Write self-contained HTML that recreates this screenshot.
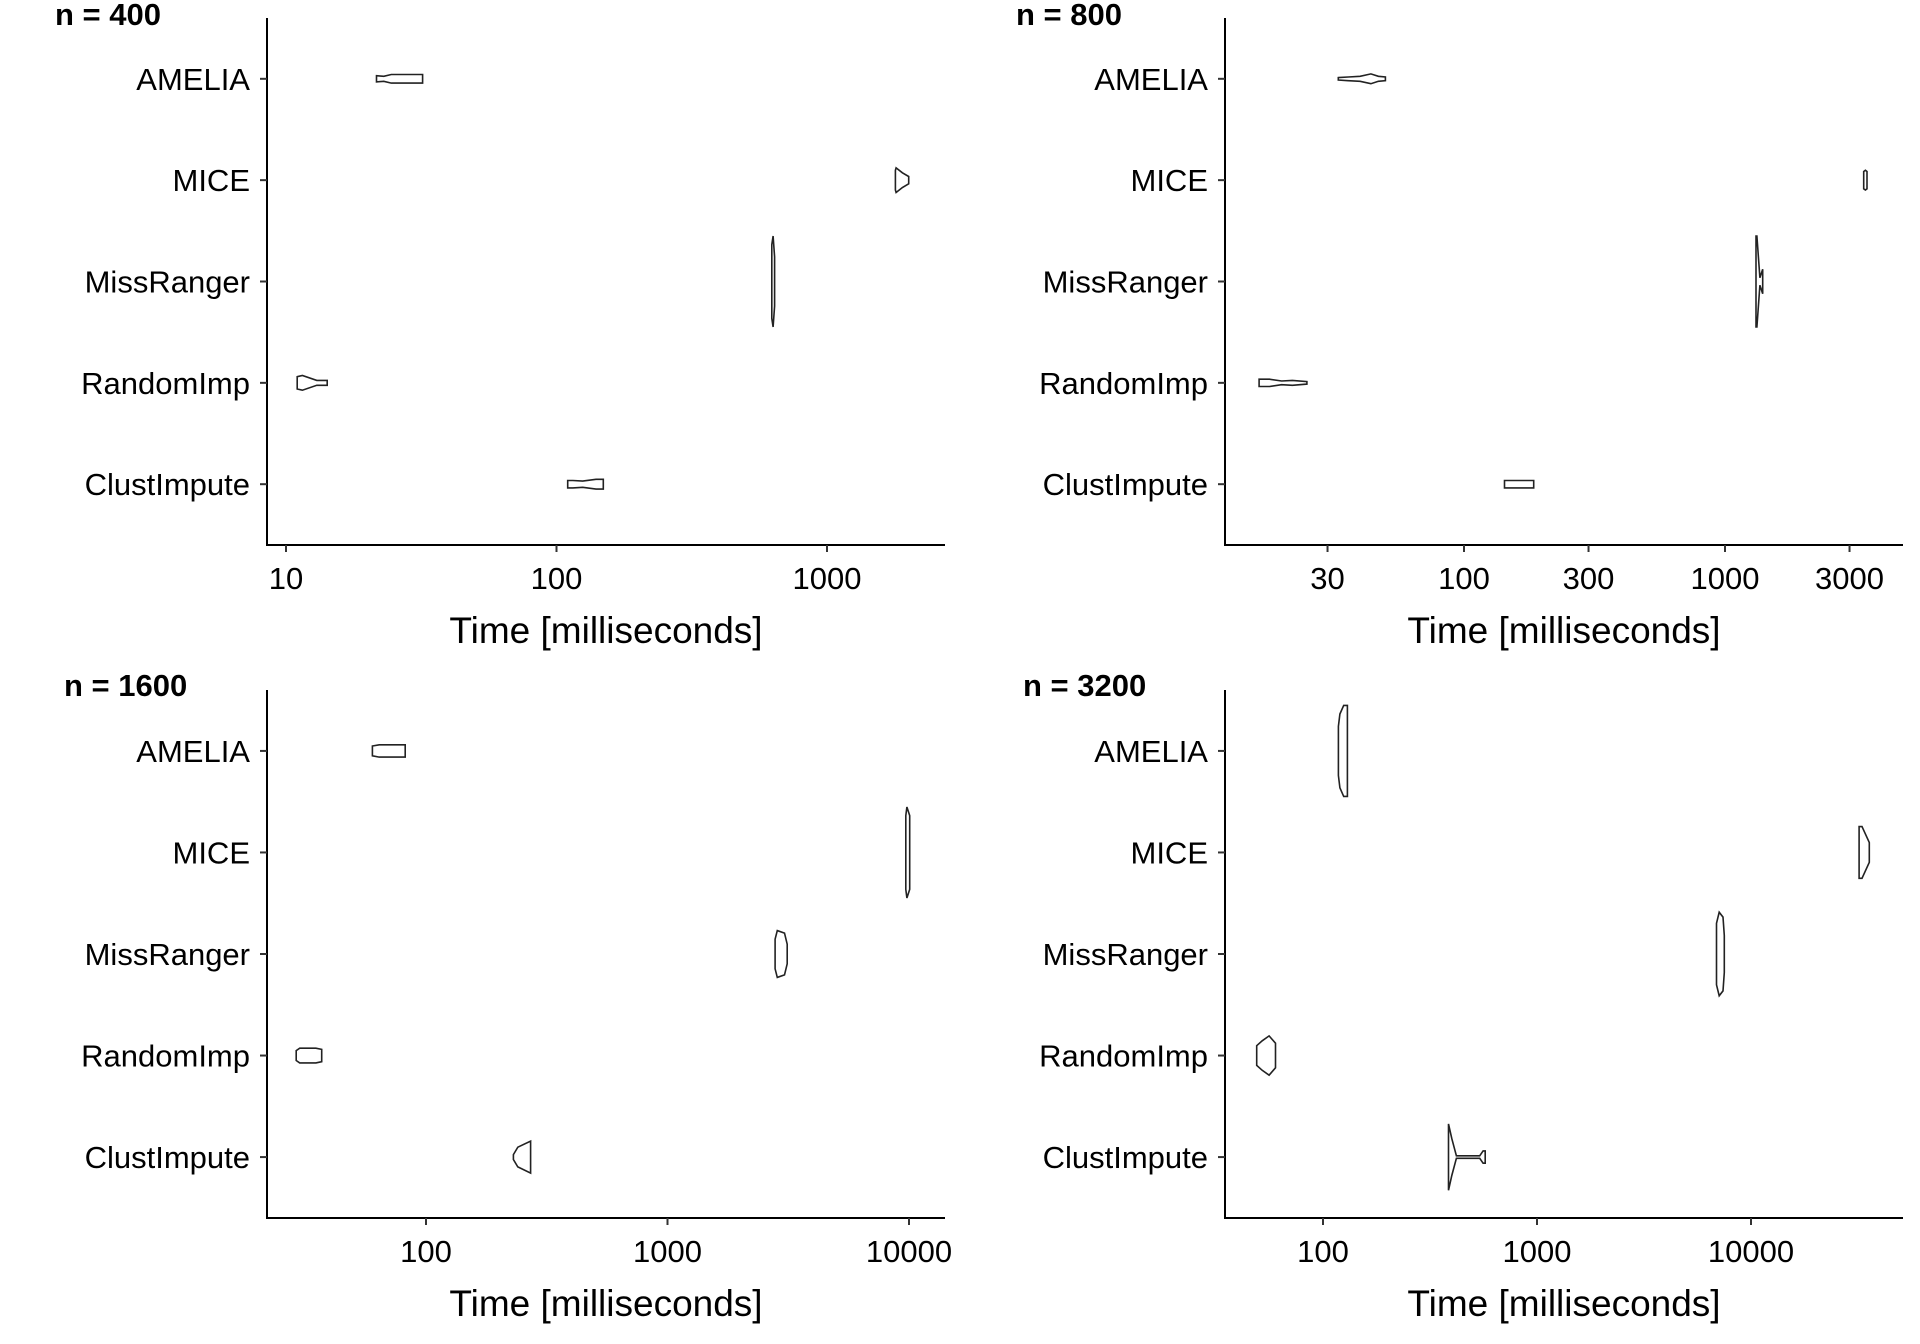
<!DOCTYPE html>
<html><head><meta charset="utf-8"><style>
html,body{margin:0;padding:0;background:#fff;}
svg{display:block;font-family:"Liberation Sans",Arial,sans-serif;}
</style></head><body>
<svg id="chart" width="1920" height="1344" viewBox="0 0 1920 1344" xmlns="http://www.w3.org/2000/svg"></svg>
<script>
const categories = ["AMELIA","MICE","MissRanger","RandomImp","ClustImpute"];
const panelTitles = ["n = 400","n = 800","n = 1600","n = 3200"];
const ticks400 = [10,100,1000];
const ticks800 = [30,100,300,1000,3000];
const ticks1600 = [100,1000,10000];
const ticks3200 = [100,1000,10000];
// violin profiles: values (ms) and half-widths (density units)
const v400_AMELIA=[21.6,23,24.5,32], w400_AMELIA=[2.5,2,3.5,3.5];
const v400_MICE=[1790,1800,1900,2005], w400_MICE=[8,10,6,3];
const v400_MissRanger=[625,632,640], w400_MissRanger=[30,37,20];
const v400_RandomImp=[11,11.5,13,14.2], w400_RandomImp=[5,6,2,2];
const v400_ClustImpute=[110,115,125,140,149], w400_ClustImpute=[3,3,2.5,4,4];
const v800_AMELIA=[33,36,40,44,47,50], w800_AMELIA=[1,1.5,2,4,2,1.5];
const v800_MICE=[3400,3450,3500], w800_MICE=[7,8,7];
const v800_MissRanger=[1315,1325,1360,1395], w800_MissRanger=[37,37,3,10];
const v800_RandomImp=[16.4,18,20,22,25], w800_RandomImp=[3,3,1.5,2,1];
const v800_ClustImpute=[143,150,170,185], w800_ClustImpute=[3,3,3,3];
const v1600_AMELIA=[60,64,75,82], w1600_AMELIA=[4,5,5,5];
const v1600_MICE=[9700,9800,10070], w1600_MICE=[30,37,30];
const v1600_MissRanger=[2790,2850,3050,3130], w1600_MissRanger=[12,19,17,8];
const v1600_RandomImp=[29,30,35,37], w1600_RandomImp=[4,6,6,5];
const v1600_ClustImpute=[230,240,271], w1600_ClustImpute=[2,8,13];
const v3200_AMELIA=[118,120,125,130], w3200_AMELIA=[20,30,37,37];
const v3200_MICE=[32000,33000,35700], w3200_MICE=[21,21,8];
const v3200_MissRanger=[6900,7100,7400,7500], w3200_MissRanger=[25,34,30,15];
const v3200_RandomImp=[49,52,56,60], w3200_RandomImp=[8,12,16,10];
const v3200_ClustImpute=[386,400,420,540,560,573], w3200_ClustImpute=[27,15,1,1,5,5];

const panels = [
 {title:panelTitles[0], ticks:ticks400, x0:267, x1:945, top:18, bot:545, refV:10, refX:286, dec:270.5, tx:55, ty:25,
  v:[v400_AMELIA,v400_MICE,v400_MissRanger,v400_RandomImp,v400_ClustImpute], w:[w400_AMELIA,w400_MICE,w400_MissRanger,w400_RandomImp,w400_ClustImpute]},
 {title:panelTitles[1], ticks:ticks800, x0:1225, x1:1903, top:18, bot:545, refV:100, refX:1464, dec:261, tx:1016, ty:25,
  v:[v800_AMELIA,v800_MICE,v800_MissRanger,v800_RandomImp,v800_ClustImpute], w:[w800_AMELIA,w800_MICE,w800_MissRanger,w800_RandomImp,w800_ClustImpute]},
 {title:panelTitles[2], ticks:ticks1600, x0:267, x1:945, top:690, bot:1218, refV:100, refX:426, dec:241.5, tx:64, ty:696,
  v:[v1600_AMELIA,v1600_MICE,v1600_MissRanger,v1600_RandomImp,v1600_ClustImpute], w:[w1600_AMELIA,w1600_MICE,w1600_MissRanger,w1600_RandomImp,w1600_ClustImpute]},
 {title:panelTitles[3], ticks:ticks3200, x0:1225, x1:1903, top:690, bot:1218, refV:100, refX:1323, dec:214, tx:1023, ty:696,
  v:[v3200_AMELIA,v3200_MICE,v3200_MissRanger,v3200_RandomImp,v3200_ClustImpute], w:[w3200_AMELIA,w3200_MICE,w3200_MissRanger,w3200_RandomImp,w3200_ClustImpute]}
];
const NS="http://www.w3.org/2000/svg";
const svg=document.getElementById('chart');
function mk(tag,attrs,parent,text){const e=document.createElementNS(NS,tag);for(const k in attrs)e.setAttribute(k,attrs[k]);if(text!==undefined)e.textContent=text;parent.appendChild(e);return e;}
const wScale=1.23;
panels.forEach((p,pi)=>{
  const g=mk('g',{},svg);
  
  
  const xs=v=>p.refX+p.dec*Math.log10(v/p.refV);
  const slot=(p.bot-p.top)/5.2;
  const ys=i=>p.top+slot*0.6+slot*i;
  const t=mk('text',{x:p.tx,y:p.ty,'font-size':31,'font-weight':'bold',fill:'#000'},g,p.title);
  
  
  const ax=mk('path',{d:`M${p.x0},${p.top}V${p.bot}H${p.x1}`,stroke:'#000','stroke-width':2,fill:'none'},g);
  
  
  categories.forEach((c,i)=>{
    const y=ys(i);
    mk('line',{x1:p.x0-7,x2:p.x0,y1:y,y2:y,stroke:'#333','stroke-width':2},g);
    const l=mk('text',{x:p.x0-17,y:y+11,'font-size':31,'text-anchor':'end',fill:'#000'},g,c);
    
    
    const vals=p.v[i], ws=p.w[i];
    let d='';
    vals.forEach((v,k)=>{d+=(k?'L':'M')+xs(v).toFixed(1)+','+(y-ws[k]*wScale).toFixed(1);});
    for(let k=vals.length-1;k>=0;k--){d+='L'+xs(vals[k]).toFixed(1)+','+(y+ws[k]*wScale).toFixed(1);}
    d+='Z';
    const vp=mk('path',{d:d,fill:'#fff',stroke:'#222','stroke-width':1.6},g);
    
    
  });
  p.ticks.forEach(tv=>{
    const x=xs(tv);
    mk('line',{x1:x,x2:x,y1:p.bot,y2:p.bot+7,stroke:'#333','stroke-width':2},g);
    const l=mk('text',{x:x,y:p.bot+44,'font-size':31,'text-anchor':'middle',fill:'#000'},g,String(tv));
    
    
  });
  const xt=mk('text',{x:(p.x0+p.x1)/2,y:p.bot+98,'font-size':37,'text-anchor':'middle',fill:'#000'},g,'Time [milliseconds]');
  
  
});
</script>
</body></html>
